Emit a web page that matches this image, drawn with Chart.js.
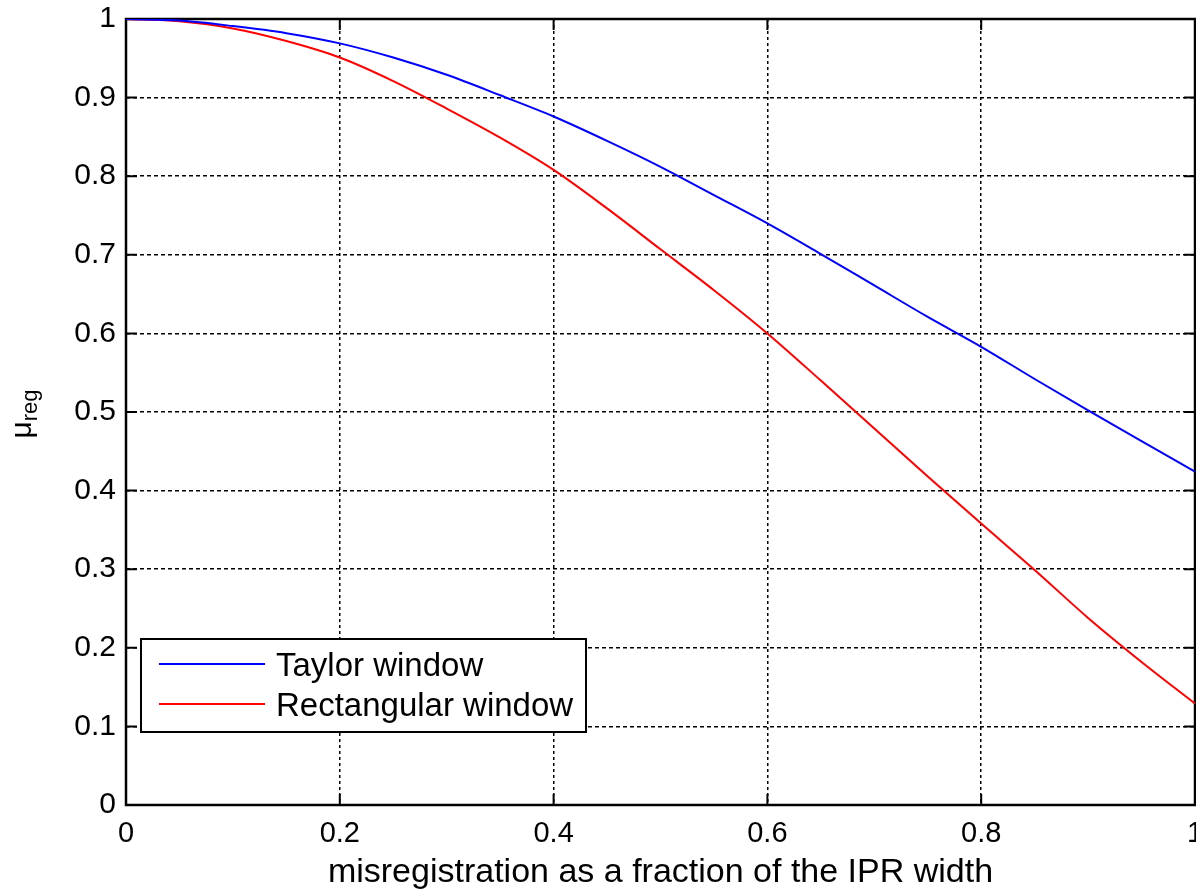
<!DOCTYPE html>
<html>
<head>
<meta charset="utf-8">
<script src="https://cdn.jsdelivr.net/npm/chart.js@4"></script>
<style>
  html, body { margin: 0; padding: 0; background: #fff; }
</style>
</head>
<body>
<canvas id="muChart" width="1196" height="890"></canvas>
<script>
// values
const misregistration = [0, 0.05, 0.1, 0.15, 0.2, 0.25, 0.3, 0.35, 0.4, 0.45, 0.5,
                         0.55, 0.6, 0.65, 0.7, 0.75, 0.8, 0.85, 0.9, 0.95, 1];
const taylorWindow = [1.000, 0.998, 0.991, 0.982, 0.969, 0.951, 0.929, 0.903, 0.876, 0.845, 0.812,
                      0.776, 0.740, 0.701, 0.661, 0.621, 0.583, 0.542, 0.502, 0.463, 0.424];
const rectangularWindow = [1.000, 0.997, 0.988, 0.972, 0.951, 0.921, 0.886, 0.849, 0.808, 0.759, 0.707,
                           0.655, 0.600, 0.540, 0.479, 0.418, 0.358, 0.299, 0.238, 0.182, 0.129];

const seriesNames = ['Taylor window', 'Rectangular window'];
const seriesColors = ['#0000ff', '#ff0000'];

const xTickValues = [0, 0.2, 0.4, 0.6, 0.8, 1];
const xTickLabels = ['0', '0.2', '0.4', '0.6', '0.8', '1'];
const yTickValues = [0, 0.1, 0.2, 0.3, 0.4, 0.5, 0.6, 0.7, 0.8, 0.9, 1];
const yTickLabels = ['0', '0.1', '0.2', '0.3', '0.4', '0.5', '0.6', '0.7', '0.8', '0.9', '1'];

const FONT = '"Liberation Sans", Arial, Helvetica, sans-serif';

function toPoints(ys) {
    return misregistration.map((x, i) => ({ x: x, y: ys[i] }));
}

// box round the axes with matlab style inward ticks
const axesBox = {
    id: 'axesBox',
    beforeDatasetsDraw(chart) {
        const { ctx, chartArea: a, scales } = chart;
        const len = 11;
        ctx.save();
        ctx.strokeStyle = '#000';
        ctx.setLineDash([]);
        ctx.lineWidth = 2;
        ctx.beginPath();
        xTickValues.forEach(v => {
            const px = scales.x.getPixelForValue(v);
            ctx.moveTo(px, a.bottom); ctx.lineTo(px, a.bottom - len);
            ctx.moveTo(px, a.top); ctx.lineTo(px, a.top + len);
        });
        yTickValues.forEach(v => {
            const py = scales.y.getPixelForValue(v);
            ctx.moveTo(a.left, py); ctx.lineTo(a.left + len, py);
            ctx.moveTo(a.right, py); ctx.lineTo(a.right - len, py);
        });
        ctx.stroke();
        ctx.lineWidth = 2.5;
        ctx.strokeRect(a.left, a.top, a.right - a.left, a.bottom - a.top);
        ctx.restore();
    }
};

// legend box inside the plot (lower left) and the y label with subscript
const overlays = {
    id: 'overlays',
    afterDraw(chart) {
        const { ctx, chartArea: a } = chart;
        ctx.save();

        // legend
        const bx = a.left + 15, by = a.bottom - 166, bw = 445, bh = 93;
        ctx.fillStyle = '#fff';
        ctx.fillRect(bx, by, bw, bh);
        ctx.strokeStyle = '#000';
        ctx.lineWidth = 2;
        ctx.strokeRect(bx, by, bw, bh);
        ctx.font = '33px ' + FONT;
        ctx.textBaseline = 'alphabetic';
        ctx.textAlign = 'left';
        chart.data.datasets.forEach((ds, i) => {
            const ly = by + 25 + i * 40;
            ctx.strokeStyle = ds.borderColor;
            ctx.lineWidth = 2;
            ctx.beginPath();
            ctx.moveTo(bx + 18, ly);
            ctx.lineTo(bx + 124, ly);
            ctx.stroke();
            ctx.fillStyle = '#000';
            ctx.fillText(ds.label, bx + 135, ly + 12);
        });

        // y axis label: mu with subscript reg
        ctx.translate(31, (a.top + a.bottom) / 2 + 2);
        ctx.rotate(-Math.PI / 2);
        ctx.fillStyle = '#000';
        ctx.font = '30px ' + FONT;
        const muW = ctx.measureText('\u03bc').width;
        ctx.font = '22px ' + FONT;
        const subW = ctx.measureText('reg').width;
        const start = -(muW + subW) / 2;
        ctx.font = '30px ' + FONT;
        ctx.fillText('\u03bc', start, 0);
        ctx.font = '22px ' + FONT;
        ctx.fillText('reg', start + muW, 6);
        ctx.restore();
    }
};

const ctx = document.getElementById('muChart').getContext('2d');
new Chart(ctx, {
    type: 'line',
    data: {
        datasets: [
            { label: seriesNames[0], data: toPoints(taylorWindow), borderColor: seriesColors[0] },
            { label: seriesNames[1], data: toPoints(rectangularWindow), borderColor: seriesColors[1] }
        ]
    },
    options: {
        responsive: false,
        animation: false,
        devicePixelRatio: 1,
        layout: { padding: { top: 19, right: 1, left: 0, bottom: 0 } },
        elements: {
            point: { radius: 0 },
            line: { borderWidth: 2, cubicInterpolationMode: 'monotone', fill: false }
        },
        plugins: {
            legend: { display: false },
            tooltip: { enabled: false }
        },
        scales: {
            x: {
                type: 'linear',
                min: 0,
                max: 1,
                afterBuildTicks: s => { s.ticks = xTickValues.map(v => ({ value: v })); },
                afterFit: s => { s.height = 85; s.paddingLeft = 0; s.paddingRight = 0; },
                ticks: {
                    callback: (v, i) => xTickLabels[i],
                    color: '#000',
                    padding: 12,
                    maxRotation: 0,
                    font: { family: FONT, size: 29 }
                },
                grid: { color: '#000', lineWidth: 1.5, drawTicks: false },
                border: { display: false, dash: [3, 3] },
                title: {
                    display: true,
                    text: 'misregistration as a fraction of the IPR width',
                    color: '#000',
                    padding: 0,
                    font: { family: FONT, size: 34, lineHeight: 1 }
                }
            },
            y: {
                type: 'linear',
                min: 0,
                max: 1,
                afterBuildTicks: s => { s.ticks = yTickValues.map(v => ({ value: v })); },
                afterFit: s => { s.width = 126; s.paddingTop = 0; s.paddingBottom = 0; },
                ticks: {
                    callback: (v, i) => yTickLabels[i],
                    color: '#000',
                    padding: 10,
                    font: { family: FONT, size: 30 }
                },
                grid: { color: '#000', lineWidth: 1.5, drawTicks: false },
                border: { display: false, dash: [4, 3] }
            }
        }
    },
    plugins: [axesBox, overlays]
});
</script>
</body>
</html>
